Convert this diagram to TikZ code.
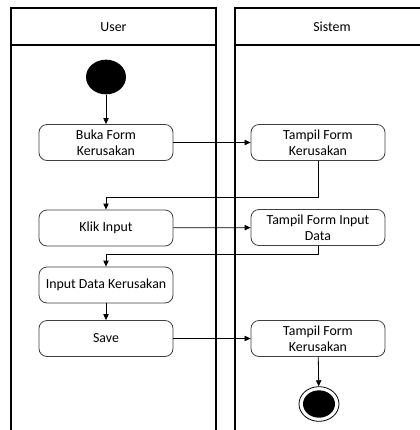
\documentclass[tikz,border=0pt]{standalone}
\usepackage{fontspec}
\setmainfont{Carlito}
\usetikzlibrary{arrows.meta,shapes.geometric}
\begin{document}
\begin{tikzpicture}[x=0.75pt,y=-0.75pt,
  lane/.style={draw=black,line width=1.4pt},
  act/.style={draw=black!75,line width=0.6pt,rounded corners=6pt,
    minimum width=100.5pt,minimum height=27pt,align=center,
    inner sep=1pt,font=\fontsize{10.4}{12}\selectfont},
  flow/.style={draw=black,line width=0.6pt,-{Triangle[length=4.5pt,width=4pt]}},
  hdr/.style={font=\fontsize{10.4}{12}\selectfont}]
\useasboundingbox (0,0) rectangle (420,430);
\fill[white] (0,0) rectangle (420,430);

% swimlanes
\draw[lane] (11,430) -- (11,8) -- (216,8) -- (216,430);
\draw[lane] (11,45) -- (216,45);
\draw[lane] (235,430) -- (235,8) -- (421,8);
\draw[lane] (235,45) -- (421,45);
\node[hdr] (huser) at (113.5,27) {User};
\node[hdr] (hsys) at (332,27) {Sistem};

% start and end states
\node[fill=black,ellipse,minimum width=30pt,minimum height=26pt,inner sep=0pt] (start) at (106,77) {};
\node[draw=black,line width=0.6pt,ellipse,minimum width=30pt,inner sep=0pt,
  minimum height=26pt] (endo) at (319,404) {};
\node[fill=black,ellipse,minimum width=24pt,minimum height=20.5pt,inner sep=0pt] (endi) at (endo.center) {};

% activities
\node[act] (buka) at (106,142.5) {Buka Form\\Kerusakan};
\node[act] (tampil1) at (318,142.5) {Tampil Form\\Kerusakan};
\node[act] (klik) at (106,228) {Klik Input};
\node[act] (tampil2) at (318,227.5) {Tampil Form Input\\Data};
\node[act] (input) at (106,285) {Input Data Kerusakan};
\node[act] (save) at (106,338.5) {Save};
\node[act] (tampil3) at (318,338.5) {Tampil Form\\Kerusakan};

% connectors
\coordinate (b1) at (318,197);
\coordinate (b2) at (106,197);
\coordinate (c1) at (318,254);
\coordinate (c2) at (106,254);
\draw[flow] (start) -- (buka);
\draw[flow] (buka) -- (tampil1);
\draw[flow] (tampil1.south) -- (b1) -- (b2) -- (klik.north);
\draw[flow] (klik) -- (tampil2);
\draw[flow] (tampil2.south) -- (c1) -- (c2) -- (input.north);
\draw[flow] (input) -- (save);
\draw[flow] (save) -- (tampil3);
\draw[flow] (tampil3) -- (endo);
\end{tikzpicture}
\end{document}
